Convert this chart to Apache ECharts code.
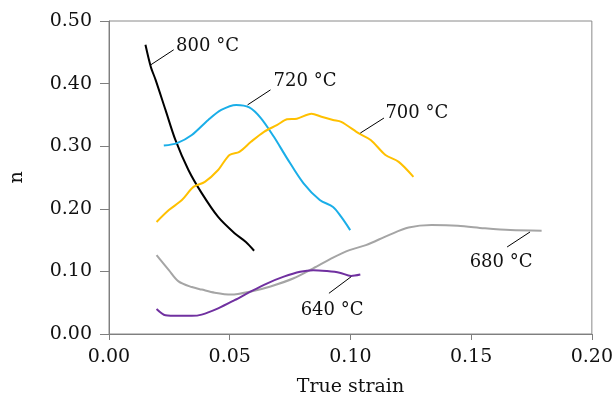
<!DOCTYPE html>
<html>
<head>
<meta charset="utf-8">
<script src="https://cdn.jsdelivr.net/npm/echarts@6/dist/echarts.min.js"></script>
<style>html,body{margin:0;padding:0;background:#fff}#c{width:616px;height:402px}</style>
</head>
<body>
<div id="c"></div>
<script>
// Data: [true strain, n]
const s800 = [[0.0151,0.462],[0.0173,0.427],[0.0193,0.406],[0.0234,0.358],[0.0275,0.310],[0.0329,0.262],[0.0384,0.225],[0.0452,0.187],[0.0520,0.161],[0.0567,0.147],[0.0601,0.133]];
const s720 = [[0.0227,0.301],[0.0282,0.305],[0.0343,0.318],[0.0411,0.342],[0.0465,0.358],[0.0527,0.366],[0.0581,0.362],[0.0629,0.345],[0.0683,0.315],[0.0737,0.281],[0.0805,0.241],[0.0873,0.214],[0.0928,0.203],[0.0962,0.187],[0.0999,0.166]];
const s700 = [[0.0197,0.179],[0.0248,0.198],[0.0302,0.214],[0.0350,0.235],[0.0397,0.243],[0.0452,0.262],[0.0499,0.286],[0.0540,0.291],[0.0588,0.307],[0.0642,0.323],[0.0697,0.334],[0.0737,0.343],[0.0778,0.344],[0.0839,0.352],[0.0880,0.347],[0.0928,0.342],[0.0962,0.339],[0.1037,0.320],[0.1084,0.310],[0.1145,0.286],[0.1200,0.275],[0.1261,0.251]];
const s680 = [[0.0197,0.126],[0.0248,0.102],[0.0288,0.084],[0.0343,0.075],[0.0384,0.071],[0.0438,0.066],[0.0506,0.063],[0.0588,0.068],[0.0669,0.076],[0.0765,0.089],[0.0846,0.105],[0.0928,0.122],[0.0996,0.134],[0.1064,0.142],[0.1159,0.158],[0.1241,0.170],[0.1336,0.174],[0.1445,0.173],[0.1554,0.169],[0.1662,0.166],[0.1792,0.165]];
const s640 = [[0.0197,0.040],[0.0234,0.030],[0.0288,0.029],[0.0343,0.029],[0.0384,0.031],[0.0452,0.041],[0.0520,0.054],[0.0588,0.068],[0.0656,0.081],[0.0724,0.0916],[0.0792,0.0995],[0.0846,0.102],[0.0901,0.1006],[0.0955,0.098],[0.1003,0.0927],[0.1041,0.095]];

const seriesNames = ['800 °C','720 °C','700 °C','680 °C','640 °C'];
const seriesColors = ['#000000','#1aaee8','#ffc000','#a5a5a5','#7030a0'];
// Label anchor positions (data coords) and leader lines
const labelPos = [[0.0408,0.459],[0.0812,0.403],[0.1275,0.353],[0.1624,0.114],[0.0924,0.038]];
const leaders = [
  [[0.0173,0.430],[0.0268,0.454]],
  [[0.0574,0.366],[0.0669,0.390]],
  [[0.1041,0.321],[0.1139,0.345]],
  [[0.1649,0.139],[0.1744,0.163]],
  [[0.0911,0.065],[0.1003,0.0915]]
];
const xTicks = [0, 0.05, 0.10, 0.15, 0.20];
const yTicks = [0, 0.1, 0.2, 0.3, 0.4, 0.5];

const FONT = 'DejaVu Serif';
const allData = [s800, s720, s700, s680, s640];
const series = allData.map((d, i) => ({
  type: 'line', name: seriesNames[i], data: d, showSymbol: false, smooth: 0.3,
  lineStyle: {color: seriesColors[i], width: 2}, z: 3
}));
leaders.forEach(l => series.push({
  type: 'line', data: l, showSymbol: false, silent: true,
  lineStyle: {color: '#000', width: 1}, z: 4
}));
series.push({
  type: 'scatter', symbolSize: 0, silent: true,
  itemStyle: {opacity: 1},
  data: labelPos.map((p, i) => ({value: p, name: seriesNames[i]})),
  label: {show: true, position: 'inside', formatter: '{b}', color: '#111', opacity: 1, fontFamily: FONT, fontSize: 18}
});

const chart = echarts.init(document.getElementById('c'), null, {renderer: 'canvas'});
chart.setOption({
  animation: false,
  grid: {left: 106, right: 21, top: 21, bottom: 68, show: true, borderColor: '#8a8a8a', borderWidth: 1},
  xAxis: {
    type: 'value', min: 0, max: 0.2, interval: 0.05,
    name: 'True strain', nameLocation: 'middle', nameGap: 44,
    nameTextStyle: {fontFamily: FONT, fontSize: 19, color: '#111'},
    axisLine: {show: true, lineStyle: {color: '#7f7f7f', width: 1}},
    axisTick: {show: true, length: 6, lineStyle: {color: '#7f7f7f'}},
    splitLine: {show: false},
    axisLabel: {fontFamily: FONT, fontSize: 19, color: '#111', margin: 14,
      formatter: v => v.toFixed(2)}
  },
  yAxis: {
    type: 'value', min: 0, max: 0.5, interval: 0.1,
    name: 'n', nameLocation: 'middle', nameGap: 82, nameRotate: 90,
    nameTextStyle: {fontFamily: FONT, fontSize: 19, color: '#111'},
    axisLine: {show: true, lineStyle: {color: '#7f7f7f', width: 1}},
    axisTick: {show: true, length: 9, lineStyle: {color: '#7f7f7f'}},
    splitLine: {show: false},
    axisLabel: {fontFamily: FONT, fontSize: 19, color: '#111', margin: 17,
      formatter: v => v.toFixed(2)}
  },
  series: series
});
</script>
</body>
</html>
